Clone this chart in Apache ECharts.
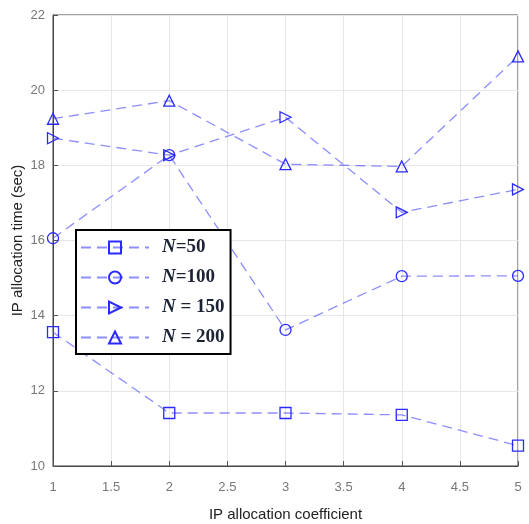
<!DOCTYPE html>
<html><head><meta charset="utf-8">
<script src="https://cdn.jsdelivr.net/npm/echarts@6/dist/echarts.min.js"></script>
<style>html,body{margin:0;padding:0;background:#fff}#c{width:529px;height:524px}</style>
</head><body><div id="c"></div>
<script>
const xValues = [1, 2, 3, 4, 5];
const n50  = [13.56, 11.41, 11.41, 11.36, 10.54];
const n100 = [16.06, 18.27, 13.62, 15.05, 15.06];
const n150 = [18.72, 18.27, 19.28, 16.75, 17.36];
const n200 = [19.24, 19.72, 18.03, 17.97, 20.9];
const seriesNames = ['N50', 'N100', 'N150', 'N200'];
const legendLabels = {N50: '{n|N}{b|=50}', N100: '{n|N}{b|=100}', N150: '{n|N}{b| = 150}', N200: '{n|N}{b| = 200}'};

const lineColor = 'rgba(80,80,255,0.65)';
const markColor = '#2a2aff';
function mk(name, data, symbol, rot) {
  return {
    name: name, type: 'line',
    data: xValues.map((x, i) => [x, data[i]]),
    symbol: symbol, symbolSize: 11, symbolRotate: rot || 0,
    lineStyle: {color: lineColor, width: 1.3, type: [10, 6]},
    itemStyle: {color: 'rgba(255,255,255,0)', borderColor: markColor, borderWidth: 1.3},
    emphasis: {disabled: true}, z: 3
  };
}
const chart = echarts.init(document.getElementById('c'));
chart.setOption({
  animation: false,
  backgroundColor: '#fff',
  grid: {left: 53, right: 11, top: 15, bottom: 58, show: true, borderColor: '#444', borderWidth: 1, outerBoundsMode: 'none', containLabel: false},
  legend: {
    orient: 'vertical', left: 76, top: 230, width: 152,
    backgroundColor: '#fff', borderColor: '#000', borderWidth: 2,
    padding: [8, 6, 7, 4], itemGap: 11, itemWidth: 68, itemHeight: 15,
    data: seriesNames,
    formatter: n => legendLabels[n],
    textStyle: {
      rich: {
        n: {fontFamily: 'Liberation Serif', fontStyle: 'italic', fontWeight: 'bold', fontSize: 19, color: '#1b2233', padding: [0, 0, 0, 8]},
        b: {fontFamily: 'Liberation Serif', fontWeight: 'bold', fontSize: 19, color: '#1b2233'}
      }
    }
  },
  xAxis: {
    type: 'value', min: 1, max: 5, interval: 0.5,
    name: 'IP allocation coefficient', nameLocation: 'middle', nameGap: 41, nameMoveOverlap: false,
    nameTextStyle: {fontFamily: 'Liberation Sans', fontSize: 15, color: '#222'},
    axisLine: {lineStyle: {color: '#444'}},
    axisTick: {inside: true, length: 5, lineStyle: {color: '#555'}},
    axisLabel: {fontFamily: 'Liberation Sans', fontSize: 13, color: '#777', margin: 15},
    splitLine: {show: true, lineStyle: {color: '#e6e6e6'}}
  },
  yAxis: {
    type: 'value', min: 10, max: 22, interval: 2,
    name: 'IP allocation time (sec)', nameLocation: 'middle', nameGap: 28, nameMoveOverlap: false,
    nameTextStyle: {fontFamily: 'Liberation Sans', fontSize: 15, color: '#222'},
    axisLine: {show: true, lineStyle: {color: '#444'}},
    axisTick: {show: true, inside: true, length: 5, lineStyle: {color: '#555'}},
    axisLabel: {fontFamily: 'Liberation Sans', fontSize: 13, color: '#777', margin: 8},
    splitLine: {show: true, lineStyle: {color: '#e6e6e6'}}
  },
  series: [
    mk('N50', n50, 'rect'),
    mk('N100', n100, 'circle'),
    mk('N150', n150, 'triangle', -90),
    mk('N200', n200, 'triangle')
  ]
});
</script></body></html>
